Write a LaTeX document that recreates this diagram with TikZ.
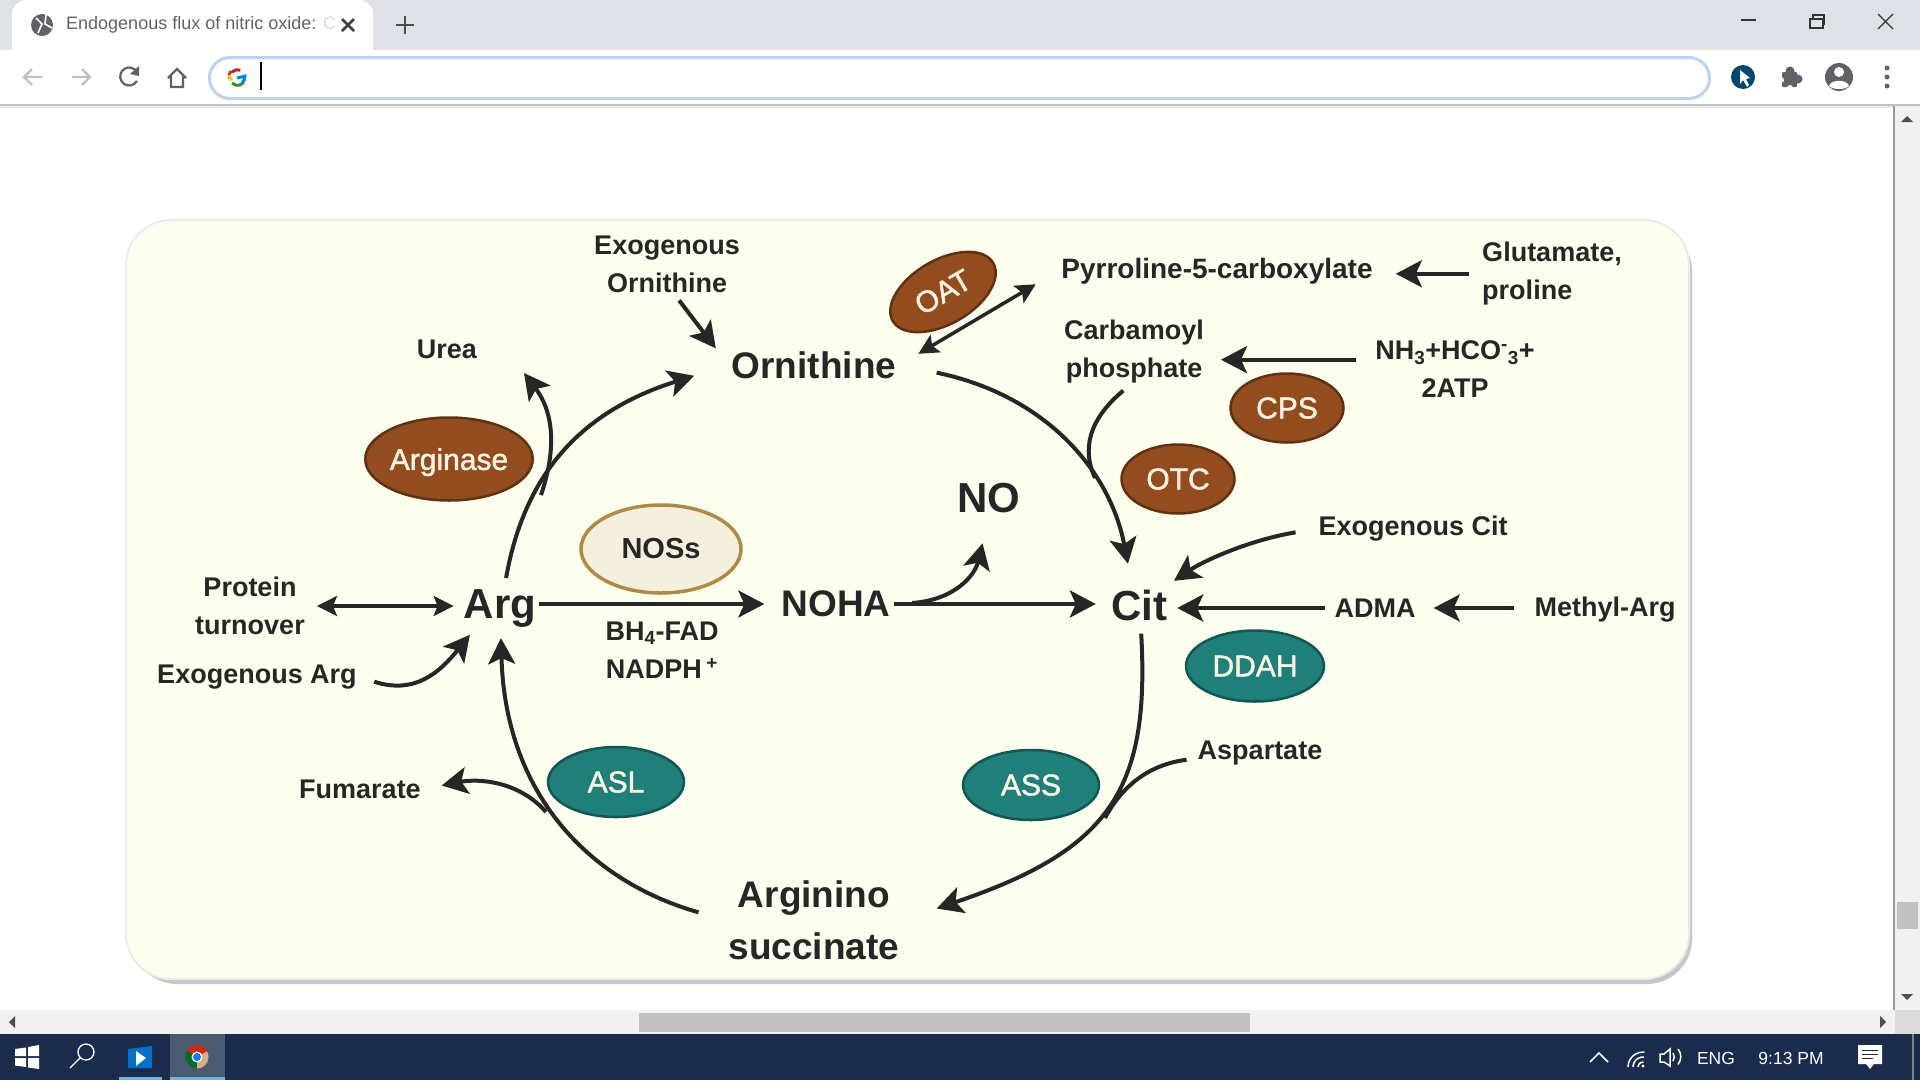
\documentclass[tikz,border=0pt]{standalone}
\usepackage{xcolor}
\usepackage{fontspec}
\setmainfont{Liberation Sans}
\newfontfamily\enzfont[FakeBold=1.5]{Liberation Sans}
\usepackage{tikz}
\usetikzlibrary{shapes.geometric, arrows.meta, positioning, calc}
\definecolor{mydark}{RGB}{38,38,38}
\definecolor{mybrown}{RGB}{146,76,30}
\definecolor{edgebrown}{RGB}{96,48,16}
\definecolor{myteal}{RGB}{30,128,120}
\definecolor{edgeteal}{RGB}{16,88,84}
\definecolor{palefill}{RGB}{244,240,222}
\definecolor{paleedge}{RGB}{176,138,66}
\definecolor{panelfill}{RGB}{253,255,238}
\definecolor{enzwhite}{RGB}{252,244,226}
\definecolor{tabgray}{RGB}{222,225,230}
\definecolor{icongray}{RGB}{95,99,104}
\definecolor{navgray}{RGB}{190,192,195}
\definecolor{barblue}{RGB}{187,211,240}
\definecolor{scrollbg}{RGB}{241,241,241}
\definecolor{scrollthumb}{RGB}{193,193,193}
\definecolor{taskbar}{RGB}{27,43,75}
\definecolor{tasktile}{RGB}{74,90,112}
\definecolor{taskblue}{RGB}{116,176,224}
\tikzset{
  metab/.style={font=\fontsize{27}{38}\selectfont\bfseries, text=mydark, align=center, inner sep=3pt},
  bigmetab/.style={font=\fontsize{37}{52}\selectfont\bfseries, text=mydark, align=center, inner sep=3pt},
  hugemetab/.style={font=\fontsize{42}{50}\selectfont\bfseries, text=mydark, inner sep=3pt},
  enzbrown/.style={ellipse, draw=edgebrown, fill=mybrown, line width=2.5pt, inner sep=0pt,
    font=\enzfont\fontsize{30}{36}\selectfont, text=enzwhite},
  enzteal/.style={ellipse, draw=edgeteal, fill=myteal, line width=2.5pt, inner sep=0pt,
    font=\enzfont\fontsize{30}{36}\selectfont, text=enzwhite},
  enzpale/.style={ellipse, draw=paleedge, fill=palefill, line width=3.5pt, inner sep=0pt,
    font=\fontsize{29}{36}\selectfont\bfseries, text=mydark},
  arrow/.style={-{Stealth[length=26pt,width=27pt,inset=6pt]}, line width=4pt, color=mydark},
  dblarrow/.style={{Stealth[length=20pt,width=20pt,inset=4pt]}-{Stealth[length=20pt,width=20pt,inset=4pt]}, line width=3.5pt, color=mydark},
  line/.style={line width=4pt, color=mydark},
  uitext/.style={font=\fontsize{18}{22}\selectfont, text=icongray, inner sep=0pt},
  traytext/.style={font=\fontsize{17.5}{22}\selectfont, text=white, inner sep=0pt},
  uiline/.style={line width=2.2pt, color=icongray},
  trayline/.style={line width=1.5pt, color=white}
}
\begin{document}
\begin{tikzpicture}[x=1pt, y=-1pt]
  \useasboundingbox (0,0) rectangle (1920,1080);
  \fill[white] (0,0) rectangle (1920,1080);

  % Tab strip and toolbar
  \fill[tabgray] (0,0) rectangle (1920,50);
  \fill[white] (12,50) -- (12,14) arc[start angle=180, end angle=90, radius=14pt] -- (359,0) arc[start angle=90, end angle=0, radius=14pt] -- (373,50) -- cycle;
  \fill[black!25] (0,104) rectangle (1920,106);
  \fill[black!8] (0,106) rectangle (1894,108);

  % Tab content
  \fill[icongray] (42,25) circle (11pt);
  \draw[white, line width=1.6pt] (36,18) -- (42,24) -- (38,33) (46,15) -- (45,24) -- (52,28);
  \node[uitext, anchor=west] (tabtitle) at (66,25) {Endogenous flux of nitric oxide: \textcolor{black!15}{C}};
  \draw[line width=2.6pt, color=black!75] (342,19) -- (354,31) (354,19) -- (342,31);
  \draw[line width=2.6pt, color=black!70] (405,16) -- (405,34) (396,25) -- (414,25);

  % Navigation icons
  \draw[line width=2.2pt, color=navgray] (24,77) -- (42,77) (32,69) -- (24,77) -- (32,85);
  \draw[line width=2.2pt, color=navgray] (72,77) -- (90,77) (82,69) -- (90,77) -- (82,85);
  \draw[uiline] (137,72) arc[start angle=30, end angle=330, radius=9pt];
  \fill[icongray] (139,66) -- (139,76) -- (130,74) -- cycle;
  \draw[uiline] (168,78) -- (177,69) -- (186,78) (171,76) -- (171,87) -- (183,87) -- (183,76);

  % Address bar
  \draw[barblue, line width=3pt, fill=white] (230,57.5) -- (1689,57.5) arc[start angle=90, end angle=-90, radius=20.5pt] -- (230,98.5) arc[start angle=270, end angle=90, radius=20.5pt] -- cycle;
  \draw[line width=3pt, color=red!70!black!85] (232,72) arc[start angle=135, end angle=70, radius=8pt];
  \draw[line width=3pt, color=red!65!black!80] (231,71) arc[start angle=140, end angle=200, radius=8pt];
  \draw[line width=3pt, color=yellow!70!orange] (229.5,75) arc[start angle=180, end angle=225, radius=8pt];
  \draw[line width=3pt, color=green!45!black!80] (232,83) arc[start angle=225, end angle=320, radius=8pt];
  \draw[line width=3pt, color=blue!50!cyan] (242,83) arc[start angle=-50, end angle=5, radius=8pt] -- (237,78);
  \draw[line width=1.3pt, color=black] (261,62) -- (261,90);

  % Window buttons
  \draw[line width=1.2pt, color=black!80] (1741,20) -- (1756,20);
  \draw[line width=1.2pt, color=black!80] (1810,19) rectangle (1823,28) (1813,19) -- (1813,15) -- (1824,15) -- (1824,24) -- (1823,24);
  \draw[line width=1.2pt, color=black!80] (1878,14) -- (1893,29) (1893,14) -- (1878,29);

  % Extension icons
  \fill[blue!40!black!60!cyan!70!black] (1743,77) circle (12pt);
  \fill[white] (1740,70) -- (1740,84) -- (1743,80) -- (1747,87) -- (1749,85) -- (1746,79) -- (1750,78) -- cycle;
  \fill[icongray, rounded corners=1pt] (1782,72) rectangle (1797,87);
  \fill[icongray] (1790,71) circle (4.5pt) (1798,79) circle (4.5pt);
  \fill[white] (1781,80) circle (3pt) (1790,88) circle (3pt);
  \fill[icongray] (1839,77) circle (14pt);
  \fill[white] (1839,72) circle (5pt);
  \fill[white] (1829,86) .. controls (1831,79) and (1847,79) .. (1849,86) .. controls (1845,90) and (1833,90) .. (1829,86);
  \foreach \y in {68,77,86} {
    \fill[icongray] (1887,\y) circle (2.5pt);
  }

  % Scrollbars
  \fill[scrollbg] (1894,106) rectangle (1920,1034);
  \draw[line width=1.2pt, color=black!40] (1894,106) -- (1894,1010);
  \fill[icongray!80!black] (1901,122) -- (1907,116) -- (1913,122) -- cycle;
  \fill[icongray!80!black] (1901,994) -- (1913,994) -- (1907,1000) -- cycle;
  \fill[scrollthumb] (1897,902) rectangle (1918,929);
  \fill[scrollbg] (0,1010) rectangle (1894,1034);
  \fill[black!14] (1895,1010) rectangle (1920,1034);
  \fill[scrollthumb] (639,1013) rectangle (1250,1032);
  \fill[icongray!80!black] (15,1016) -- (15,1028) -- (9,1022) -- cycle;
  \fill[icongray!80!black] (1880,1016) -- (1880,1028) -- (1886,1022) -- cycle;

  % Taskbar
  \fill[taskbar] (0,1034) rectangle (1920,1080);
  \fill[white] (15,1049) -- (26,1047.5) -- (26,1056) -- (15,1056) -- cycle
    (28,1047) -- (39,1045) -- (39,1056) -- (28,1056) -- cycle
    (15,1058) -- (26,1058) -- (26,1067) -- (15,1065.5) -- cycle
    (28,1058) -- (39,1058) -- (39,1069) -- (28,1067.5) -- cycle;
  \draw[white, line width=1.3pt] (86,1052) circle (8pt) (80,1058) -- (70,1068);
  \fill[blue!45!cyan!80!black] (128,1049) -- (152,1046) -- (152,1068) -- (128,1068) -- cycle;
  \fill[white] (136,1051) -- (136,1066) -- (146,1058) -- cycle;
  \fill[taskblue] (119,1077) rectangle (162,1080);
  \fill[tasktile] (170,1034) rectangle (225,1077);
  \fill[taskblue] (170,1077) rectangle (225,1080);
  \fill[red!65!orange!85!black] (197,1057) -- (187,1051) arc[start angle=150, end angle=30, radius=11.5pt] -- cycle;
  \fill[green!40!black!70!teal] (197,1057) -- (187,1051) arc[start angle=150, end angle=270, radius=11.5pt] -- cycle;
  \fill[orange!40!white!85!black] (197,1057) -- (197,1068.5) arc[start angle=270, end angle=390, radius=11.5pt] -- cycle;
  \fill[white] (197,1057) circle (5.5pt);
  \fill[blue!50!cyan] (197,1057) circle (4pt);

  % Tray icons
  \draw[trayline] (1590,1062) -- (1599,1053) -- (1608,1062);
  \draw[trayline] (1628,1067) arc[start angle=180, end angle=85, radius=15pt] (1633,1067) arc[start angle=180, end angle=85, radius=10pt] (1638,1067) arc[start angle=180, end angle=85, radius=5pt];
  \fill[white] (1643,1066) circle (1.6pt);
  \draw[trayline] (1660,1054) -- (1664,1054) -- (1670,1049) -- (1670,1066) -- (1664,1062) -- (1660,1062) -- cycle;
  \draw[trayline] (1673,1053) arc[start angle=35, end angle=-35, radius=7pt] (1678,1049) arc[start angle=40, end angle=-40, radius=12pt];
  \node[traytext] (lang) at (1716,1058) {ENG};
  \node[traytext] (clock) at (1791,1058) {9:13 PM};
  \fill[white] (1858,1045) rectangle (1882,1064) (1866,1064) -- (1874,1064) -- (1870,1069) -- cycle;
  \draw[line width=1pt, color=taskbar] (1862,1050) -- (1878,1050) (1862,1054) -- (1878,1054) (1862,1058) -- (1873,1058);
  \fill[black!35!green!15!white!55!black] (1912,1034) rectangle (1914,1080);

  % Panel with its shadow
  \fill[black!22, rounded corners=45pt] (132,226) rectangle (1692,984);
  \draw[black!8, line width=2pt, fill=panelfill, rounded corners=45pt] (126,220) rectangle (1689,979);

  % Metabolites
  \node[metab] (exoorn) at (667,264) {Exogenous\\Ornithine};
  \node[metab] (urea) at (447,349) {Urea};
  \node[bigmetab] (orn) at (814,365) {Ornithine};
  \node[metab, font=\fontsize{28}{38}\selectfont\bfseries] (pyr) at (1217,271) {Pyrroline-5-carboxylate};
  \node[metab, align=left] (glu) at (1552,274) {Glutamate,\\proline};
  \node[metab] (carb) at (1134,352) {Carbamoyl\\phosphate};
  \node[metab] (nh) at (1455,369) {NH\textsubscript{3}+HCO\textsuperscript{-}\textsubscript{3}+\\2ATP};
  \node[hugemetab] (no) at (989,498) {NO};
  \node[metab] (exocit) at (1413,529) {Exogenous Cit};
  \node[hugemetab] (cit) at (1139,605) {Cit};
  \node[metab] (adma) at (1375,608) {ADMA};
  \node[metab] (methyl) at (1605,610) {Methyl-Arg};
  \node[bigmetab] (noha) at (836,604) {NOHA};
  \node[hugemetab] (arg) at (500,608) {Arg};
  \node[metab] (prot) at (250,606) {Protein\\turnover};
  \node[metab] (exoarg) at (257,677) {Exogenous Arg};
  \node[metab] (cofac) at (662,650) {BH\textsubscript{4}-FAD\\NADPH\,\textsuperscript{+}};
  \node[metab] (fum) at (360,789) {Fumarate};
  \node[metab] (asp) at (1260,753) {Aspartate};
  \node[bigmetab] (suc) at (814,920) {Arginino\\succinate};

  % Enzymes
  \node[enzbrown, minimum width=116pt, minimum height=64pt, rotate=30] (oat) at (943,292) {OAT};
  \node[enzbrown, minimum width=113pt, minimum height=69pt] (cps) at (1287,408) {CPS};
  \node[enzbrown, minimum width=113pt, minimum height=69pt] (otc) at (1178,479) {OTC};
  \node[enzbrown, minimum width=159pt, minimum height=83pt, text depth=0pt] (argase) at (449,459) {Arginase};
  \node[enzpale, minimum width=160pt, minimum height=88pt] (nos) at (661,549) {NOSs};
  \node[enzteal, minimum width=136pt, minimum height=70pt] (asl) at (616,782) {ASL};
  \node[enzteal, minimum width=136pt, minimum height=70pt] (ass) at (1031,785) {ASS};
  \node[enzteal, minimum width=138pt, minimum height=71pt] (ddah) at (1255,666) {DDAH};

  % Branch points on the curves
  \coordinate (ureajoin) at (541,495);
  \coordinate (ureatip) at (524,373);
  \coordinate (fumjoin) at (546,812);
  \coordinate (nojoin) at (912,603);
  \coordinate (carbjoin) at (1095,478);
  \coordinate (aspjoin) at (1105,818);

  % Main cycle
  \draw[arrow, shorten <=8pt, shorten >=36pt] (arg.78) .. controls (525,470) and (585,410) .. (orn.west);
  \draw[line, shorten <=6pt] (carb.-100) .. controls (1088,420) and (1082,450) .. (carbjoin);
  \draw[arrow, shorten <=38pt, shorten >=23pt] (orn.east) .. controls (1045,395) and (1110,470) .. (cit.110);
  \draw[arrow, shorten <=10pt, shorten >=36pt] (cit.-85) .. controls (1150,790) and (1110,850) .. (suc.east);
  \draw[arrow, shorten <=28pt, shorten >=8pt] (suc.west) .. controls (585,880) and (505,790) .. (arg.-88);
  \draw[arrow, shorten >=14pt] (arg.east |- noha.east) -- (noha.west);
  \draw[arrow, shorten >=12pt] (noha.east) -- (cit.west |- noha.east);

  % Side branches
  \draw[arrow] (ureajoin) .. controls (558,445) and (552,410) .. (ureatip);
  \draw[arrow, shorten <=6pt, shorten >=21pt] (exoorn.-75) -- (orn.west);
  \draw[dblarrow, shorten <=22pt, shorten >=26pt] (orn.east) -- (pyr.west);
  \draw[arrow, shorten <=10pt, shorten >=20pt] (glu.west |- pyr.-1) -- (pyr.-1);
  \draw[arrow, shorten <=16pt, shorten >=14pt] (nh.west |- carb.-6) -- (carb.-6);
  \draw[arrow, shorten >=28pt] (nojoin) .. controls (955,600) and (975,575) .. (no.south);
  \draw[arrow, shorten <=20pt, shorten >=10pt] (exocit.west) .. controls (1250,540) and (1205,560) .. (cit.35);
  \draw[arrow, shorten <=6pt, shorten >=7pt] (adma.west) -- (cit.east |- adma.west);
  \draw[arrow, shorten <=17pt, shorten >=15pt] (methyl.west |- adma.east) -- (adma.east);
  \draw[dblarrow, shorten <=9pt, shorten >=7pt] (prot.east) -- (arg.west |- prot.east);
  \draw[arrow, shorten <=15pt, shorten >=6pt] (exoarg.east) .. controls (415,695) and (440,672) .. (arg.-140);
  \draw[arrow, shorten >=18pt] (fumjoin) .. controls (520,782) and (480,778) .. (fum.east);
  \draw[line, shorten <=8pt] (asp.-175) .. controls (1145,765) and (1120,790) .. (aspjoin);
\end{tikzpicture}
\end{document}
